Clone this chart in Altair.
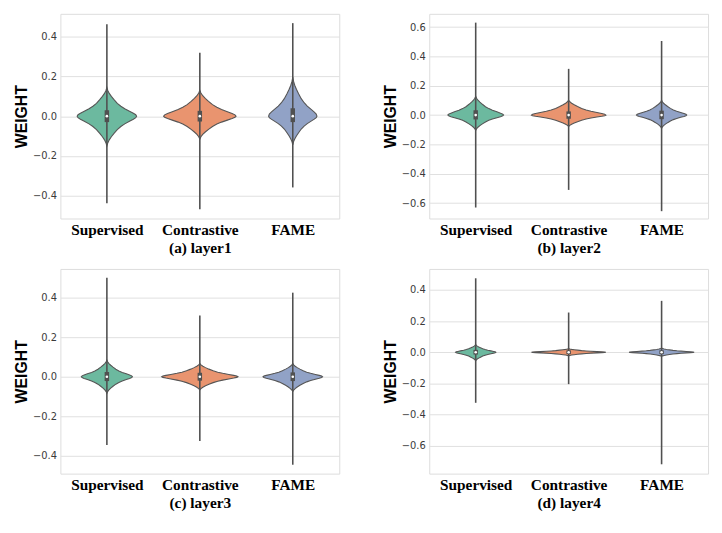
import altair as alt
import pandas as pd

CATS = ["Supervised", "Contrastive", "FAME"]
CAPTIONS = ["(a) layer1", "(b) layer2", "(c) layer3", "(d) layer4"]
COLORS = ["#6cb99f", "#e9946f", "#91a2c6"]

# shared violin outline: offset (in spreads) -> relative half-width
PROFILE_U = [0.0, 0.15, 0.3, 0.5, 0.75, 1.0, 1.3, 1.67, 2.0, 2.3, 2.6, 2.9]
PROFILE_W = [1.0, 0.97, 0.89, 0.76, 0.6, 0.47, 0.35, 0.24, 0.15, 0.08, 0.03, 0.0]

# per panel (a,b,c,d) x per method (Supervised, Contrastive, FAME)
HALF_WIDTH = [[0.32, 0.39, 0.26], [0.30, 0.40, 0.27], [0.275, 0.41, 0.32], [0.216, 0.40, 0.35]]
SPREAD_UP = [[0.05, 0.045, 0.068], [0.044, 0.035, 0.035], [0.029, 0.023, 0.023], [0.017, 0.008, 0.009]]
SPREAD_DOWN = [[0.052, 0.04, 0.05], [0.036, 0.027, 0.031], [0.029, 0.023, 0.026], [0.019, 0.008, 0.009]]
W_MAX = [[0.465, 0.32, 0.47], [0.63, 0.315, 0.505], [0.50, 0.31, 0.425], [0.475, 0.255, 0.33]]
W_MIN = [[-0.44, -0.47, -0.36], [-0.63, -0.51, -0.655], [-0.345, -0.325, -0.445], [-0.325, -0.205, -0.72]]
Q1 = [[-0.03, -0.027, -0.03], [-0.03, -0.025, -0.028], [-0.022, -0.02, -0.022], [-0.015, -0.012, -0.012]]
Q3 = [[0.03, 0.027, 0.04], [0.033, 0.025, 0.03], [0.024, 0.02, 0.022], [0.015, 0.012, 0.012]]
MEDIAN = [[0.0, 0.0, 0.0], [0.0, 0.0, 0.0], [0.0, 0.0, 0.0], [0.0, 0.0, 0.0]]
Y_DOMAIN = [[-0.517, 0.517], [-0.705, 0.69], [-0.49, 0.545], [-0.78, 0.535]]
Y_TICKS = [[-0.4, -0.2, 0.0, 0.2, 0.4], [-0.6, -0.4, -0.2, 0.0, 0.2, 0.4, 0.6],
           [-0.4, -0.2, 0.0, 0.2, 0.4], [-0.6, -0.4, -0.2, 0.0, 0.2, 0.4]]

vrows = []
srows = []
for p in range(4):
    for i, cat in enumerate(CATS):
        m = MEDIAN[p][i]
        pts = []
        for u, w in zip(PROFILE_U, PROFILE_W):
            pts.append((m + u * SPREAD_UP[p][i], w))
            if u > 0:
                pts.append((m - u * SPREAD_DOWN[p][i], w))
        pts.sort()
        for y, w in pts:
            hw = w * HALF_WIDTH[p][i]
            vrows.append({"panel": p, "ci": i, "y": y, "x": i - hw, "x2": i + hw})
        srows.append({"panel": p, "cat": cat, "x": i, "lo": W_MIN[p][i], "hi": W_MAX[p][i],
                      "q1": Q1[p][i], "q3": Q3[p][i], "med": m})
vdf = pd.DataFrame(vrows)
sdf = pd.DataFrame(srows)

label_expr = "datum.value == 0 ? 'Supervised' : datum.value == 1 ? 'Contrastive' : 'FAME'"


def panel(p):
    xscale = alt.Scale(domain=[-0.5, 2.5], nice=False, zero=False)
    xaxis = alt.Axis(values=[0, 1, 2], labelExpr=label_expr, title=CAPTIONS[p], grid=False,
                     ticks=False, domain=False, labelFont="Liberation Serif", labelFontWeight="bold",
                     labelFontSize=15.5, labelColor="black", labelPadding=4,
                     titleFont="Liberation Serif", titleFontWeight="bold", titleFontSize=15.5,
                     titleColor="black", titlePadding=3)
    yscale = alt.Scale(domain=Y_DOMAIN[p], nice=False, zero=False)
    yaxis = alt.Axis(values=Y_TICKS[p], format=".1f", title="WEIGHT", grid=True, gridColor="#e0e0e0",
                     gridWidth=1, ticks=False, domain=False, labelFont="DejaVu Sans", labelFontSize=10,
                     labelColor="#3a3a3a", labelPadding=4, titleFont="Liberation Sans",
                     titleFontWeight="bold", titleFontSize=16, titleColor="black", titlePadding=3)

    layers = []
    for i in range(3):
        d = vdf[(vdf.panel == p) & (vdf.ci == i)]
        layers.append(
            alt.Chart(d).mark_area(
                orient="horizontal", stroke="#555555", strokeWidth=1.1, fill=COLORS[i], opacity=1
            ).encode(
                y=alt.Y("y:Q", scale=yscale, axis=yaxis),
                x=alt.X("x:Q", scale=xscale, axis=xaxis, stack=None),
                x2="x2:Q",
            )
        )
    s = sdf[sdf.panel == p]
    whisk = alt.Chart(s).mark_rule(color="#505050", strokeWidth=1.6).encode(
        x=alt.X("x:Q", scale=xscale, axis=xaxis),
        y=alt.Y("lo:Q", scale=yscale, axis=yaxis),
        y2="hi:Q",
    )
    box = alt.Chart(s).mark_rule(color="#505050", strokeWidth=4.5).encode(
        x=alt.X("x:Q", scale=xscale, axis=xaxis),
        y=alt.Y("q1:Q", scale=yscale, axis=yaxis),
        y2="q3:Q",
    )
    med = alt.Chart(s).mark_point(filled=True, color="white", size=7, opacity=1).encode(
        x=alt.X("x:Q", scale=xscale, axis=xaxis),
        y=alt.Y("med:Q", scale=yscale, axis=yaxis),
    )
    return alt.layer(*layers, whisk, box, med).properties(width=282, height=207)


row1 = alt.hconcat(panel(0), panel(1), spacing=42)
row2 = alt.hconcat(panel(2), panel(3), spacing=42)
chart = alt.vconcat(row1, row2, spacing=11).properties(
    padding={"left": 5, "top": 2, "right": 5, "bottom": 5}
).configure_view(stroke="#cfcfcf", strokeWidth=1.2).configure(background="white")

chart.save("out.html", embed_options={"renderer": "svg", "actions": False})
